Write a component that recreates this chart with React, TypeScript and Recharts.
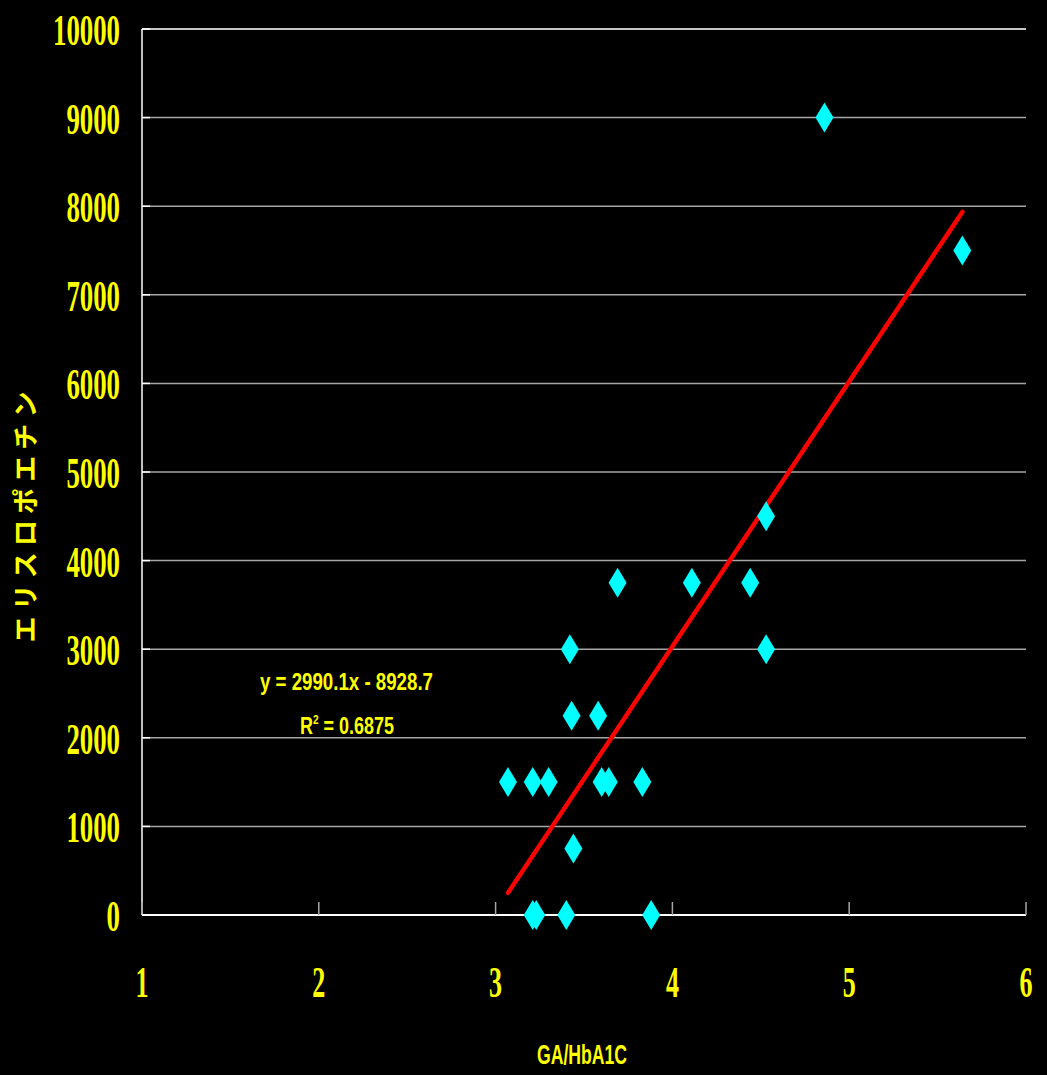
import React from "react";
import { ScatterChart, Scatter, XAxis, YAxis, CartesianGrid, ReferenceLine } from "recharts";

const gaHba1c = [4.86, 5.64, 4.53, 3.69, 4.11, 4.44, 3.42, 4.53, 3.43, 3.58, 3.07, 3.21, 3.30, 3.60, 3.64, 3.83, 3.44, 3.21, 3.23, 3.40, 3.88];
const epo = [9000, 7500, 4500, 3750, 3750, 3750, 3000, 3000, 2250, 2250, 1500, 1500, 1500, 1500, 1500, 1500, 750, 0, 0, 0, 0];
const xTicks = [1, 2, 3, 4, 5, 6];
const yTicks = [0, 1000, 2000, 3000, 4000, 5000, 6000, 7000, 8000, 9000, 10000];
const slope = 2990.1;
const intercept = -8928.7;
const trendXRange = [3.07, 5.64];

const points = gaHba1c.map((x, i) => ({ x, y: epo[i] }));
const trendSegment = trendXRange.map((x) => ({ x, y: slope * x + intercept }));

const YELLOW = "#ffff00";

const Diamond = (props: any) => {
  const { cx, cy } = props;
  if (cx == null || cy == null) return null;
  const w = 9, h = 15;
  return <polygon points={`${cx},${cy - h} ${cx + w},${cy} ${cx},${cy + h} ${cx - w},${cy}`} fill="#00ffff" />;
};

const YTick = (props: any) => {
  const { x, y, payload } = props;
  const s = String(payload.value);
  return (
    <g>
      <line x1={x} y1={y} x2={x + 8} y2={y} stroke="#ffffff" strokeWidth={1.5} />
      <text x={x - 22} y={y + 16} textAnchor="end" fill={YELLOW} fontFamily="'Liberation Serif', serif" fontWeight="bold" fontSize={45} textLength={13.4 * s.length} lengthAdjust="spacingAndGlyphs">{s}</text>
    </g>
  );
};

const XTick = (props: any) => {
  const { x, y, payload } = props;
  const s = String(payload.value);
  return (
    <g>
      <line x1={x} y1={y} x2={x} y2={y - 13} stroke="#a6a6a6" strokeWidth={1.5} />
      <text x={x} y={y + 82} textAnchor="middle" fill={YELLOW} fontFamily="'Liberation Serif', serif" fontWeight="bold" fontSize={45} textLength={13 * s.length} lengthAdjust="spacingAndGlyphs">{s}</text>
    </g>
  );
};

export default function App() {
  return (
    <div style={{ position: "absolute", left: 0, top: 0, width: 1047, height: 1075, background: "#000" }}>
      <ScatterChart width={1047} height={1075} margin={{ top: 29, right: 21, bottom: 0, left: 0 }}>
        <CartesianGrid vertical={false} stroke="#a6a6a6" strokeWidth={1.5} />
        <XAxis type="number" dataKey="x" domain={[1, 6]} ticks={xTicks} height={160} tickSize={0} tickMargin={0} tickLine={false} axisLine={{ stroke: "#ffffff", strokeWidth: 2 }} tick={<XTick />} interval={0} />
        <YAxis type="number" dataKey="y" domain={[0, 10000]} ticks={yTicks} width={142} tickSize={0} tickMargin={0} tickLine={false} axisLine={{ stroke: "#ffffff", strokeWidth: 1.5 }} tick={<YTick />} interval={0} />
        <ReferenceLine y={10000} stroke="#dddddd" strokeWidth={1.5} />
        <ReferenceLine segment={trendSegment} stroke="#ff0000" strokeWidth={4.5} strokeLinecap="round" ifOverflow="visible" />
        <Scatter data={points} shape={<Diamond />} isAnimationActive={false} />
      </ScatterChart>
      <svg width={1047} height={1075} style={{ position: "absolute", left: 0, top: 0, pointerEvents: "none" }}>
        <text x={346.5} y={690} textAnchor="middle" fill={YELLOW} fontFamily="'Liberation Sans', Arial, sans-serif" fontWeight="bold" fontSize={23} textLength={173} lengthAdjust="spacingAndGlyphs">y = 2990.1x - 8928.7</text>
        <g transform="translate(300,734) scale(0.78,1)">
          <text x={0} y={0} fill={YELLOW} fontFamily="'Liberation Sans', Arial, sans-serif" fontWeight="bold" fontSize={23}>R<tspan dy={-10} fontSize={13}>2</tspan><tspan dy={10} fontSize={23}> = 0.6875</tspan></text>
        </g>
        <text x={582} y={1064} textAnchor="middle" fill={YELLOW} fontFamily="'Liberation Sans', Arial, sans-serif" fontWeight="bold" fontSize={28} textLength={90} lengthAdjust="spacingAndGlyphs">GA/HbA1C</text>
        <text transform="translate(23.5,517) rotate(-90)" x={0} y={0} textAnchor="middle" dominantBaseline="central" fill={YELLOW} fontFamily="'Noto Sans CJK JP', sans-serif" fontWeight="bold" fontSize={26} textLength={251} lengthAdjust="spacing">エリスロポエチン</text>
      </svg>
    </div>
  );
}
